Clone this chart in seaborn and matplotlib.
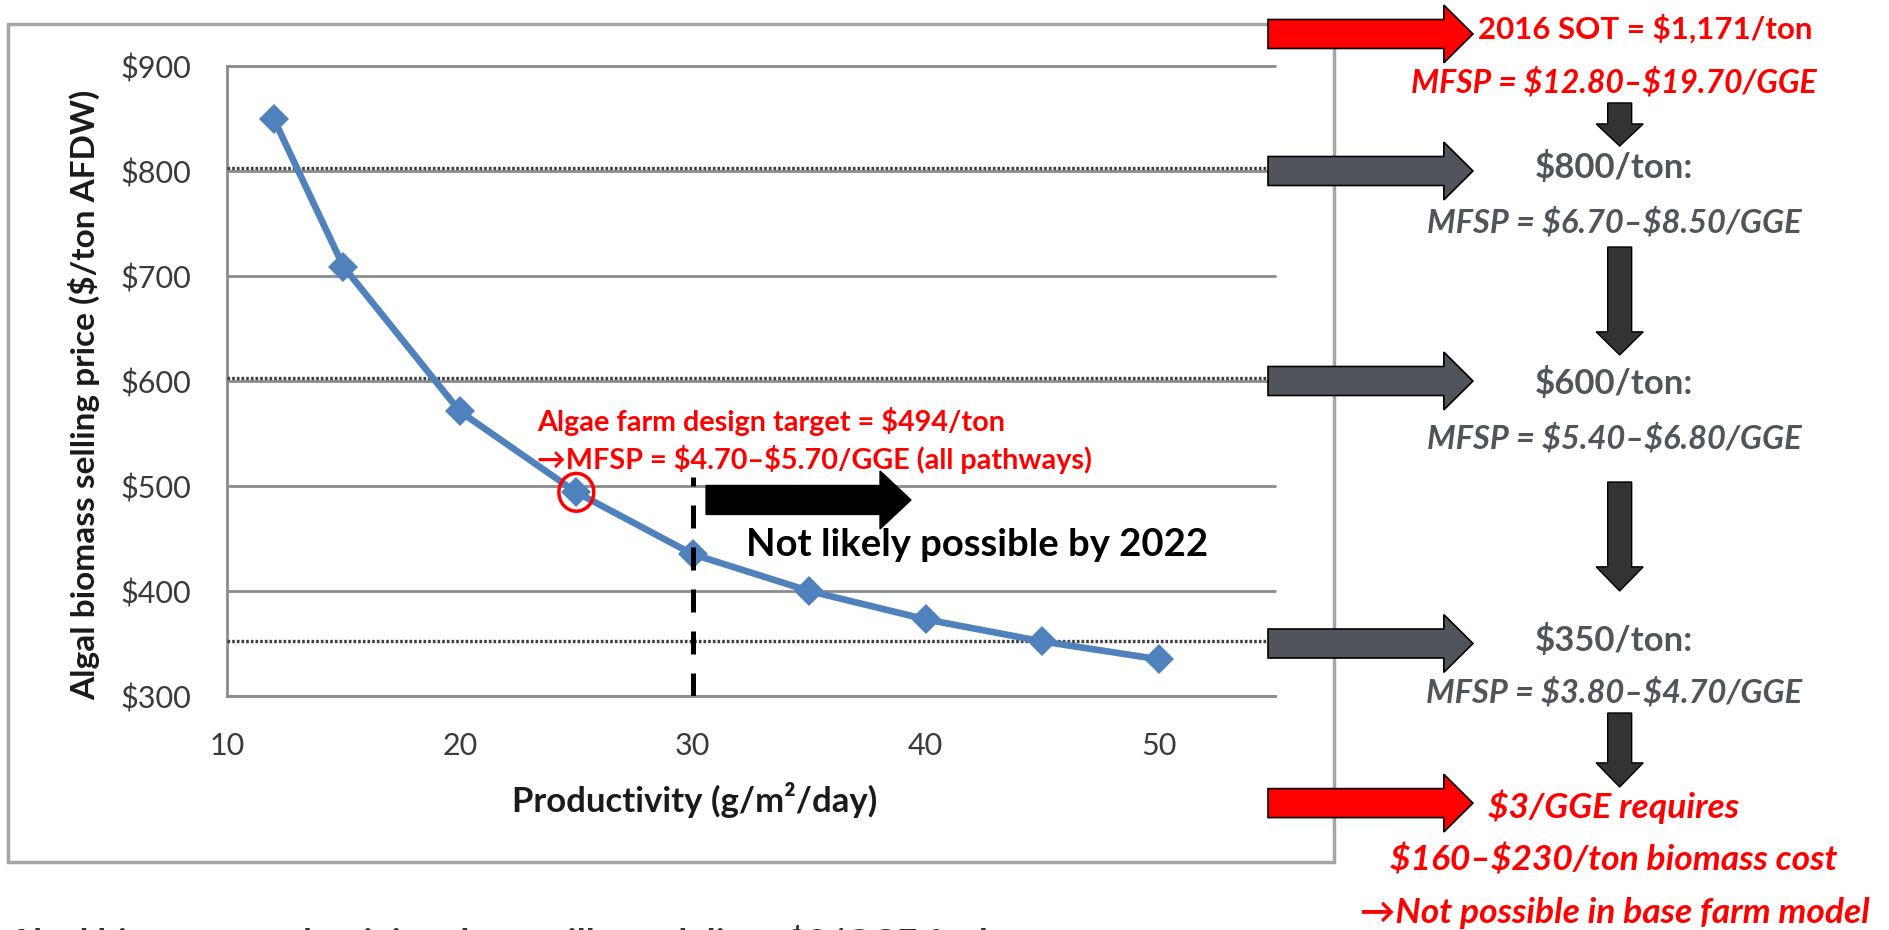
import numpy as np
import pandas as pd
import matplotlib
matplotlib.use("Agg")
import matplotlib.pyplot as plt
import matplotlib.transforms as mtransforms
from matplotlib.patches import FancyArrow, Ellipse, Rectangle
import seaborn as sns

# Selling price of algal biomass vs. pond productivity
productivity = [12, 15, 20, 25, 30, 35, 40, 45, 50]
selling_price = [850, 709, 571, 494, 435, 400, 373, 352, 335]

price_ticks = [300, 400, 500, 600, 700, 800, 900]
price_tick_labels = ["$300", "$400", "$500", "$600", "$700", "$800", "$900"]
productivity_ticks = [10, 20, 30, 40, 50]
productivity_tick_labels = ["10", "20", "30", "40", "50"]

threshold_prices = [800, 600, 350]
design_productivity = 25
design_target = 494
cutoff_productivity = 30

BLUE = "#4F81BD"
RED = "#FF0000"
GRAY_TXT = "#50555C"
GRAY_ARROW = "#50555C"
DARK_ARROW = "#333333"

sns.set_theme(style="white")
plt.rcParams["font.family"] = ["Lato", "DejaVu Sans"]
plt.rcParams["text.parse_math"] = False

W, H = 1889, 930
fig = plt.figure(figsize=(W / 100, H / 100), dpi=100)
fig.patch.set_facecolor("white")

# outer chart frame
fig.add_artist(Rectangle((8 / W, 1 - 862 / H), (1334 - 8) / W, (862 - 24) / H,
                         transform=fig.transFigure, fill=False,
                         edgecolor="#A6A6A6", lw=2.5, zorder=0))

ax = fig.add_axes([227 / W, 1 - 696 / H, 1048 / W, 630 / H])
ax.set_facecolor("white")

df = pd.DataFrame({"Productivity": productivity, "Price": selling_price})
sns.lineplot(data=df, x="Productivity", y="Price", ax=ax, color=BLUE,
             linewidth=4.8, marker="D", markersize=15, markeredgewidth=0,
             zorder=5)

ax.set_xlim(10, 55)
ax.set_ylim(300, 900)
ax.set_yticks(price_ticks)
ax.set_yticklabels(price_tick_labels)
ax.set_xticks(productivity_ticks)
ax.set_xticklabels(productivity_tick_labels)
ax.tick_params(axis="y", length=0, pad=26, labelsize=22, labelcolor="#3A3A3A")
ax.tick_params(axis="x", length=0, pad=26, labelsize=22, labelcolor="#3A3A3A")

ax.yaxis.grid(True, color="#8C8C8C", lw=2)
ax.xaxis.grid(False)
for gl in ax.get_ygridlines():
    gl.set_clip_on(False)
for side in ["top", "right"]:
    ax.spines[side].set_visible(False)
for side in ["left", "bottom"]:
    ax.spines[side].set_color("#8C8C8C")
    ax.spines[side].set_linewidth(2)

ax.set_ylabel("Algal biomass selling price ($/ton AFDW)", fontsize=24,
              fontweight="bold", color="#1A1A1A")
ax.yaxis.set_label_coords(-0.121, 0.478)
ax.set_xlabel("Productivity (g/m\u00b2/day)", fontsize=25, fontweight="bold",
              color="#1A1A1A")
ax.xaxis.set_label_coords(0.446, -0.137)

# dotted threshold lines, nudged just above the matching gridline
dotted_tr = ax.transData + mtransforms.ScaledTranslation(0, 3 / 100, fig.dpi_scale_trans)
ax.hlines(threshold_prices, 10, 55, colors="#404040", linestyles=(0, (0.8, 0.6)),
          lw=2.4, transform=dotted_tr, zorder=3, clip_on=False)

# productivity cutoff
ax.vlines(cutoff_productivity, 300, 508.6, colors="black",
          linestyles=(0, (4.6, 3.8)), lw=3.6, zorder=6)
ax.add_patch(FancyArrow(30.57, 486.7, 39.37 - 30.57, 0, width=27.6,
                        head_width=55.2, head_length=1.33,
                        length_includes_head=True, facecolor="black",
                        edgecolor="black", lw=1, zorder=6))
ax.text(32.3, 443.8, "Not likely possible by 2022", fontsize=27.5,
        fontweight="bold", color="black", ha="left", va="center", zorder=7)

# design target marker
ax.add_patch(Ellipse((design_productivity, design_target), width=1.5, height=36,
                     fill=False, edgecolor=RED, lw=2.5, zorder=7))
ax.text(23.3, 561, f"Algae farm design target = ${design_target}/ton",
        fontsize=20.7, fontweight="bold", color=RED, ha="left", va="center")
ax.text(23.3, 524.8, "\u2192MFSP = $4.70\u2013$5.70/GGE (all pathways)",
        fontsize=20.7, fontweight="bold", color=RED, ha="left", va="center")

# right-hand cost ladder
def side_arrow(y, color):
    ax.add_patch(FancyArrow(54.7, y, 63.5 - 54.7, 0, width=27.6, head_width=55,
                            head_length=1.25, length_includes_head=True,
                            facecolor=color, edgecolor="black", lw=1.2,
                            clip_on=False, zorder=8))

def down_arrow(y0, y1, head):
    ax.add_patch(FancyArrow(69.8, y0, 0, y1 - y0, width=1.03, head_width=2.02,
                            head_length=head, length_includes_head=True,
                            facecolor=DARK_ARROW, edgecolor="black", lw=1,
                            clip_on=False, zorder=8))

side_arrow(930.5, RED)
for p in threshold_prices:
    side_arrow(p, GRAY_ARROW)
side_arrow(198, RED)

down_arrow(864.8, 823.8, 21)
down_arrow(727.6, 624.8, 22)
down_arrow(503.8, 400.0, 23)
down_arrow(283.8, 213.3, 23)

def side_text(x, y, s, color, size, italic=False):
    ax.text(x, y, s, fontsize=size, fontweight="bold",
            fontstyle="italic" if italic else "normal", color=color,
            ha="center", va="center", clip_on=False)

side_text(70.9, 935, "2016 SOT = $1,171/ton", RED, 22.5)
side_text(69.55, 884.8, "MFSP = $12.80\u2013$19.70/GGE", RED, 23, italic=True)
side_text(69.55, 802.9, "$800/ton:", GRAY_TXT, 25)
side_text(69.55, 751.4, "MFSP = $6.70\u2013$8.50/GGE", GRAY_TXT, 23.5, italic=True)
side_text(69.55, 598, "$600/ton:", GRAY_TXT, 25)
side_text(69.55, 545.7, "MFSP = $5.40\u2013$6.80/GGE", GRAY_TXT, 23.5, italic=True)
side_text(69.55, 353.3, "$350/ton:", GRAY_TXT, 25)
side_text(69.55, 303.8, "MFSP = $3.80\u2013$4.70/GGE", GRAY_TXT, 23.5, italic=True)
side_text(69.55, 194.3, "$3/GGE requires", RED, 25.5, italic=True)
side_text(69.55, 143.8, "$160\u2013$230/ton biomass cost", RED, 25.5, italic=True)
side_text(69.6, 93.3, "\u2192Not possible in base farm model", RED, 25.5, italic=True)

# caption running off the lower edge
fig.text(8 / W, 1 - 924.5 / H, "Algal biomass productivity alone will not deliver $3/GGE fuel",
         fontsize=26, fontweight="bold", color="#333333", ha="left", va="top")

fig.savefig("out.png", dpi=100, facecolor="white")
